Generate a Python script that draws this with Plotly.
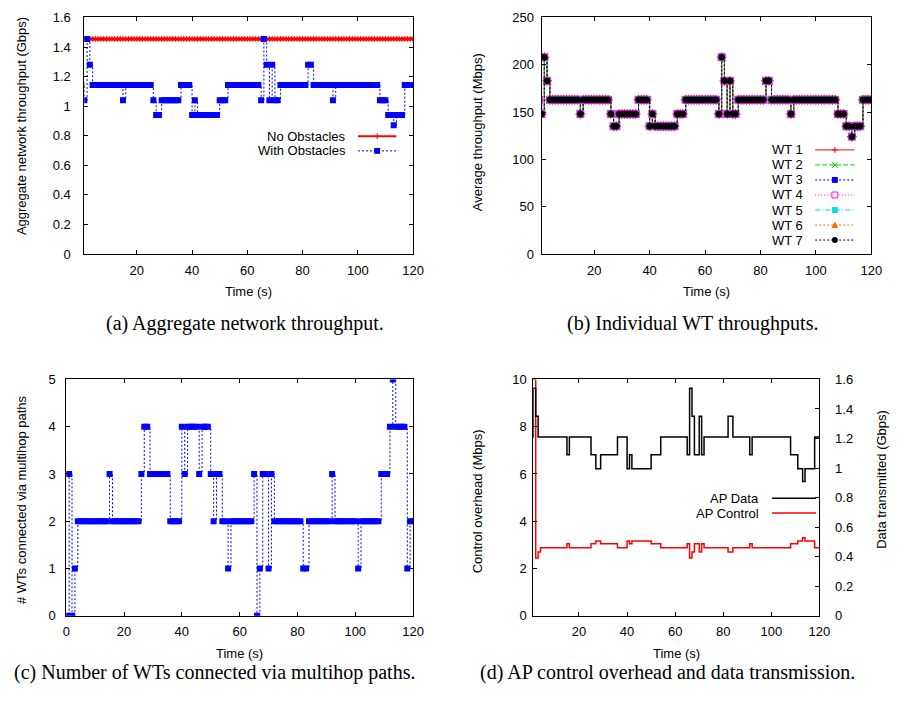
import plotly.graph_objects as go

W, H = 898, 708

# ---------------- data ----------------
time_s = list(range(121))

no_obstacles_gbps = [1.455] * 121

with_obstacles_gbps = [
    1.143, 1.04, 1.455, 1.28, 1.143, 1.143, 1.143, 1.143, 1.143, 1.143,
    1.143, 1.143, 1.143, 1.143, 1.143, 1.04, 1.143, 1.143, 1.143, 1.143,
    1.143, 1.143, 1.143, 1.143, 1.143, 1.143, 1.04, 0.94, 0.94, 1.04,
    1.04, 1.04, 1.04, 1.04, 1.04, 1.04, 1.143, 1.143, 1.143, 1.143,
    0.94, 1.04, 0.94, 0.94, 0.94, 0.94, 0.94, 0.94, 0.94, 0.94,
    1.04, 1.04, 1.04, 1.143, 1.143, 1.143, 1.143, 1.143, 1.143, 1.143,
    1.143, 1.143, 1.143, 1.143, 1.143, 1.04, 1.455, 1.28, 1.04, 1.28,
    1.04, 1.04, 1.143, 1.143, 1.143, 1.143, 1.143, 1.143, 1.143, 1.143,
    1.143, 1.143, 1.28, 1.28, 1.143, 1.143, 1.143, 1.143, 1.143, 1.143,
    1.143, 1.04, 1.143, 1.143, 1.143, 1.143, 1.143, 1.143, 1.143, 1.143,
    1.143, 1.143, 1.143, 1.143, 1.143, 1.143, 1.143, 1.143, 1.04, 1.04,
    1.04, 0.94, 0.94, 0.87, 0.94, 0.94, 0.94, 1.143, 1.143, 1.143,
    1.143,
]

wt_throughput_mbps = [
    163, 148, 208, 183, 163, 163, 163, 163, 163, 163,
    163, 163, 163, 163, 163, 148, 163, 163, 163, 163,
    163, 163, 163, 163, 163, 163, 148, 135, 135, 148,
    148, 148, 148, 148, 148, 148, 163, 163, 163, 163,
    135, 148, 135, 135, 135, 135, 135, 135, 135, 135,
    148, 148, 148, 163, 163, 163, 163, 163, 163, 163,
    163, 163, 163, 163, 163, 148, 208, 183, 148, 183,
    148, 148, 163, 163, 163, 163, 163, 163, 163, 163,
    163, 163, 183, 183, 163, 163, 163, 163, 163, 163,
    163, 148, 163, 163, 163, 163, 163, 163, 163, 163,
    163, 163, 163, 163, 163, 163, 163, 163, 148, 148,
    148, 135, 135, 124, 135, 135, 135, 163, 163, 163,
    163,
]

multihop_wts = [
    0, 3, 0, 1, 2, 2, 2, 2, 2, 2,
    2, 2, 2, 2, 2, 3, 2, 2, 2, 2,
    2, 2, 2, 2, 2, 2, 3, 4, 4, 3,
    3, 3, 3, 3, 3, 3, 2, 2, 2, 2,
    4, 3, 4, 4, 4, 4, 3, 4, 4, 4,
    3, 2, 3, 3, 2, 2, 1, 2, 2, 2,
    2, 2, 2, 2, 2, 3, 0, 1, 3, 3,
    1, 3, 2, 2, 2, 2, 2, 2, 2, 2,
    2, 2, 1, 1, 2, 2, 2, 2, 2, 2,
    2, 2, 3, 2, 2, 2, 2, 2, 2, 2,
    2, 1, 2, 2, 2, 2, 2, 2, 2, 3,
    3, 3, 4, 5, 4, 4, 4, 4, 1, 2,
    2,
]

ap_data_gbps = [
    1.21, 1.54, 1.35, 1.21, 1.21, 1.21, 1.21, 1.21, 1.21, 1.21,
    1.21, 1.21, 1.21, 1.21, 1.21, 1.09, 1.21, 1.21, 1.21, 1.21,
    1.21, 1.21, 1.21, 1.21, 1.21, 1.09, 1.09, 0.995, 0.995, 1.09,
    1.09, 1.09, 1.09, 1.09, 1.09, 1.09, 1.21, 1.21, 1.21, 1.21,
    0.995, 1.09, 0.995, 0.995, 0.995, 0.995, 0.995, 0.995, 0.995, 0.995,
    1.09, 1.09, 1.09, 1.09, 1.21, 1.21, 1.21, 1.21, 1.21, 1.21,
    1.21, 1.21, 1.21, 1.21, 1.21, 1.09, 1.54, 1.35, 1.09, 1.09,
    1.35, 1.09, 1.21, 1.21, 1.21, 1.21, 1.21, 1.21, 1.21, 1.21,
    1.21, 1.21, 1.35, 1.35, 1.21, 1.21, 1.21, 1.21, 1.21, 1.21,
    1.21, 1.09, 1.21, 1.21, 1.21, 1.21, 1.21, 1.21, 1.21, 1.21,
    1.21, 1.21, 1.21, 1.21, 1.21, 1.21, 1.21, 1.21, 1.09, 1.09,
    1.09, 0.995, 0.995, 0.91, 0.995, 0.995, 0.995, 0.995, 1.21, 1.21,
    1.21,
]

ap_control_mbps = [
    10.0, 10.0, 2.45, 2.7, 2.88, 2.88, 2.88, 2.88, 2.88, 2.88,
    2.88, 2.88, 2.88, 2.88, 2.88, 3.05, 2.88, 2.88, 2.88, 2.88,
    2.88, 2.88, 2.88, 2.88, 2.88, 3.05, 3.05, 3.17, 3.17, 3.05,
    3.05, 3.05, 3.05, 3.05, 3.05, 3.05, 2.88, 2.88, 2.88, 2.88,
    3.17, 3.05, 3.17, 3.17, 3.17, 3.17, 3.17, 3.17, 3.17, 3.17,
    3.05, 3.05, 3.05, 3.05, 2.88, 2.88, 2.88, 2.88, 2.88, 2.88,
    2.88, 2.88, 2.88, 2.88, 2.88, 3.05, 2.45, 2.7, 3.05, 3.05,
    2.7, 3.05, 2.88, 2.88, 2.88, 2.88, 2.88, 2.88, 2.88, 2.88,
    2.88, 2.88, 2.7, 2.7, 2.88, 2.88, 2.88, 2.88, 2.88, 2.88,
    2.88, 3.05, 2.88, 2.88, 2.88, 2.88, 2.88, 2.88, 2.88, 2.88,
    2.88, 2.88, 2.88, 2.88, 2.88, 2.88, 2.88, 2.88, 3.05, 3.05,
    3.05, 3.17, 3.17, 3.3, 3.17, 3.17, 3.17, 3.17, 2.88, 2.88,
    2.88,
]

wt_names = ["WT 1", "WT 2", "WT 3", "WT 4", "WT 5", "WT 6", "WT 7"]
wt_colors = ["#ff0000", "#00cc00", "#0000ff", "#ff00ff", "#00dddd", "#ff6a00", "#000000"]
wt_dashes = ["solid", "5px,2px", "2px,2px", "1px,2px", "5px,2px,1px,2px", "2px,2px", "2px,2px"]
wt_symbols = ["cross-thin", "x-thin", "square", "square-open", "square", "triangle-up", "circle"]

time_ticks = [20, 40, 60, 80, 100, 120]
time_ticks_c = [0, 20, 40, 60, 80, 100, 120]

captions = [
    "(a) Aggregate network throughput.",
    "(b) Individual WT throughputs.",
    "(c) Number of WTs connected via multihop paths.",
    "(d) AP control overhead and data transmission.",
]

# ---------------- helpers ----------------
SANS = "Liberation Sans, Arial, Helvetica, sans-serif"
SERIF = "Liberation Serif, Times New Roman, serif"


def px(x):
    return x / W


def py(y):
    return 1 - y / H


fig = go.Figure()

# (a)
fig.add_trace(go.Scatter(
    x=time_s, y=no_obstacles_gbps, mode="lines+markers", line_shape="hv",
    line=dict(color="#ff0000", width=3.5),
    marker=dict(symbol="cross-thin", size=4, line=dict(color="#ff0000", width=1)),
    xaxis="x", yaxis="y", showlegend=False, hoverinfo="skip"))
fig.add_trace(go.Scatter(
    x=time_s, y=with_obstacles_gbps, mode="lines+markers", line_shape="hv",
    line=dict(color="#0000ff", width=1, dash="2px,2px"),
    marker=dict(symbol="square", size=6, color="#0000ff"),
    xaxis="x", yaxis="y", showlegend=False, hoverinfo="skip"))

# (b)
for i in range(7):
    sym = wt_symbols[i]
    mk = dict(symbol=sym, size=6, color=wt_colors[i])
    if sym in ("cross-thin", "x-thin", "square-open"):
        mk["line"] = dict(color=wt_colors[i], width=1)
        mk["size"] = 7
    if sym == "circle":
        mk["size"] = 6.5
    fig.add_trace(go.Scatter(
        x=time_s, y=wt_throughput_mbps, mode="lines+markers", line_shape="hv",
        line=dict(color=wt_colors[i], width=1, dash=wt_dashes[i]),
        marker=mk, xaxis="x2", yaxis="y2", showlegend=False, hoverinfo="skip"))

# (c)
fig.add_trace(go.Scatter(
    x=time_s, y=multihop_wts, mode="lines+markers", line_shape="hv",
    line=dict(color="#0000ff", width=1, dash="2px,2px"),
    marker=dict(symbol="square", size=6, color="#0000ff"),
    xaxis="x3", yaxis="y3", showlegend=False, hoverinfo="skip"))

# (d)
fig.add_trace(go.Scatter(
    x=time_s, y=ap_data_gbps, mode="lines", line_shape="hv",
    line=dict(color="#000000", width=1.5),
    xaxis="x4", yaxis="y5", showlegend=False, hoverinfo="skip"))
fig.add_trace(go.Scatter(
    x=time_s, y=ap_control_mbps, mode="lines", line_shape="hv",
    line=dict(color="#ff0000", width=1.5),
    xaxis="x4", yaxis="y4", showlegend=False, hoverinfo="skip"))

# ---------------- axes ----------------
common = dict(showline=True, linecolor="black", linewidth=1, ticks="inside",
              ticklen=4, tickcolor="black", showgrid=False, zeroline=False,
              tickfont=dict(family=SANS, size=13, color="black"))

dom_a_x = [px(81.7), px(416)]
dom_b_x = [px(546.7), px(882)]
dom_c_x = [px(63.3), px(416)]
dom_d_x = [px(538.3), px(829.3)]
dom_top_y = [py(252.3), py(10.7)]
dom_bot_y = [py(622), py(380.5)]

XS = 4
fig.update_layout(
    xaxis=dict(common, domain=dom_a_x, anchor="y", range=[1, 120],
               tickvals=time_ticks, mirror="ticks", ticklabelstandoff=XS),
    yaxis=dict(common, domain=dom_top_y, anchor="x", range=[0, 1.6],
               dtick=0.2, tick0=0, mirror="ticks", ticklabelstandoff=10),
    xaxis2=dict(common, domain=dom_b_x, anchor="y2", range=[1, 120],
                tickvals=time_ticks, mirror="ticks", ticklabelstandoff=XS),
    yaxis2=dict(common, domain=dom_top_y, anchor="x2", range=[0, 250],
                dtick=50, tick0=0, mirror="ticks", ticklabelstandoff=4),
    xaxis3=dict(common, domain=dom_c_x, anchor="y3", range=[0, 120],
                tickvals=time_ticks_c, mirror="ticks", ticklabelstandoff=XS),
    yaxis3=dict(common, domain=dom_bot_y, anchor="x3", range=[0, 5],
                dtick=1, tick0=0, mirror="ticks", ticklabelstandoff=7),
    xaxis4=dict(common, domain=dom_d_x, anchor="y4", range=[1, 120],
                tickvals=time_ticks, mirror="ticks", ticklabelstandoff=XS),
    yaxis4=dict(common, domain=dom_bot_y, anchor="x4", range=[0, 10],
                dtick=2, tick0=0, mirror=False, ticklabelstandoff=3),
    yaxis5=dict(common, domain=dom_bot_y, anchor="x4", overlaying="y4",
                side="right", range=[0, 1.6], dtick=0.2, tick0=0,
                ticklabelstandoff=12),
)

# ---------------- annotations: axis titles, captions, legends ----------------
ann = []


def text(x, y, s, size=13, family=SANS, anchor="center", angle=0):
    ann.append(dict(x=px(x), y=py(y), xref="paper", yref="paper", text=s,
                    showarrow=False, xanchor=anchor, yanchor="middle",
                    textangle=angle, font=dict(family=family, size=size, color="black")))


# axis titles
text(249, 291, "Time (s)")
text(714, 291, "Time (s)")
text(240, 660, "Time (s)")
text(684, 660, "Time (s)")
text(18, 122, "Aggregate network throughput (Gbps)", angle=-90)
text(481, 128, "Average throughput (Mbps)", angle=-90)
text(18, 503, "# WTs connected via multihop paths", angle=-90)
text(481, 505, "Control overhead (Mbps)", angle=-90)
text(893, 483, "Data transmitted (Gbps)", angle=-90)

# captions
CAP = 20
text(245, 323, captions[0], size=CAP, family=SERIF)
text(700, 323, captions[1], size=CAP, family=SERIF)
text(214, 680, captions[2], size=CAP, family=SERIF)
text(675, 680, captions[3], size=CAP, family=SERIF)

shapes = []


def key_line(x0, x1, y, color, dash, width):
    shapes.append(dict(type="line", xref="paper", yref="paper",
                       x0=px(x0), x1=px(x1), y0=py(y), y1=py(y),
                       line=dict(color=color, width=width, dash=dash)))


def key_marker(cx, cy, sym, color, r=3):
    if sym == "cross-thin":
        shapes.append(dict(type="line", xref="paper", yref="paper", x0=px(cx - r), x1=px(cx + r),
                           y0=py(cy), y1=py(cy), line=dict(color=color, width=1)))
        shapes.append(dict(type="line", xref="paper", yref="paper", x0=px(cx), x1=px(cx),
                           y0=py(cy - r), y1=py(cy + r), line=dict(color=color, width=1)))
    elif sym == "x-thin":
        shapes.append(dict(type="line", xref="paper", yref="paper", x0=px(cx - r), x1=px(cx + r),
                           y0=py(cy - r), y1=py(cy + r), line=dict(color=color, width=1)))
        shapes.append(dict(type="line", xref="paper", yref="paper", x0=px(cx - r), x1=px(cx + r),
                           y0=py(cy + r), y1=py(cy - r), line=dict(color=color, width=1)))
    elif sym == "square":
        shapes.append(dict(type="rect", xref="paper", yref="paper", x0=px(cx - r), x1=px(cx + r),
                           y0=py(cy + r), y1=py(cy - r), fillcolor=color, line=dict(width=0)))
    elif sym == "square-open":
        shapes.append(dict(type="rect", xref="paper", yref="paper", x0=px(cx - r), x1=px(cx + r),
                           y0=py(cy + r), y1=py(cy - r), fillcolor="white",
                           line=dict(color=color, width=1)))
    elif sym == "triangle-up":
        path = "M {} {} L {} {} L {} {} Z".format(px(cx - r - 0.5), py(cy + r), px(cx + r + 0.5),
                                                  py(cy + r), px(cx), py(cy - r - 0.5))
        shapes.append(dict(type="path", xref="paper", yref="paper", path=path,
                           fillcolor=color, line=dict(width=0)))
    elif sym == "circle":
        shapes.append(dict(type="circle", xref="paper", yref="paper", x0=px(cx - r), x1=px(cx + r),
                           y0=py(cy + r), y1=py(cy - r), fillcolor=color, line=dict(width=0)))


# legend (a)
legend_a = [("No Obstacles", "#ff0000", "solid", 2, "cross-thin", 132),
            ("With Obstacles", "#0000ff", "2px,2px", 1, "square", 147)]
for lab, col, dash, wd, sym, y in legend_a:
    text(350, y, lab, anchor="right")
    key_line(360, 399, y, col, dash, wd)
    key_marker(379.5, y, sym, col)

# legend (b)
for i in range(7):
    y = 146 + 15.35 * i
    text(815, y, wt_names[i], anchor="right")
    key_line(825, 865, y, wt_colors[i], wt_dashes[i], 1)
    key_marker(845, y, wt_symbols[i], wt_colors[i])

# legend (d)
text(770, 502, "AP Data", anchor="right")
key_line(781, 826, 502, "#000000", "solid", 1.5)
text(770, 517, "AP Control", anchor="right")
key_line(781, 826, 517, "#ff4040", "solid", 2)

fig.update_layout(
    width=W, height=H, margin=dict(l=0, r=0, t=0, b=0),
    paper_bgcolor="white", plot_bgcolor="white",
    annotations=ann, shapes=shapes, showlegend=False,
)

fig.write_html("out.html", config={"displayModeBar": False},
               post_script="document.body.style.margin='0px';"
                           "document.body.style.overflow='hidden';")
